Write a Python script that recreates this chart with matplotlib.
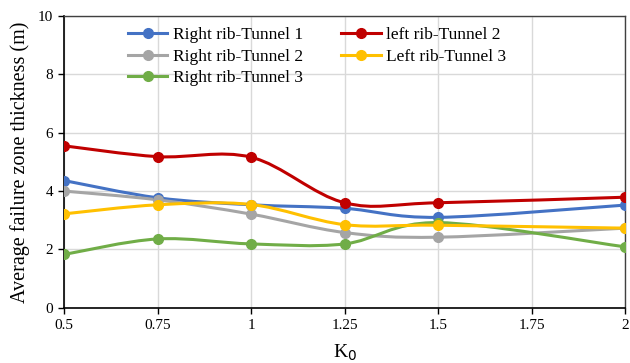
import matplotlib.pyplot as plt
import numpy as np
from matplotlib.path import Path
from matplotlib.patches import PathPatch
from matplotlib.lines import Line2D

# data
k0 = [0.5, 0.75, 1, 1.25, 1.5, 2]
right_t1 = [4.36, 3.77, 3.53, 3.41, 3.10, 3.52]
left_t2 = [5.55, 5.18, 5.16, 3.60, 3.60, 3.79]
right_t2 = [4.00, 3.70, 3.21, 2.58, 2.42, 2.73]
left_t3 = [3.22, 3.53, 3.54, 2.85, 2.83, 2.73]
right_t3 = [1.83, 2.36, 2.19, 2.19, 2.92, 2.09]

series = [
    ("Right rib-Tunnel 1", right_t1, "#4472C4"),
    ("Right rib-Tunnel 2", right_t2, "#A5A5A5"),
    ("Right rib-Tunnel 3", right_t3, "#70AD47"),
    ("left rib-Tunnel 2", left_t2, "#C00000"),
    ("Left rib-Tunnel 3", left_t3, "#FFC000"),
]

plt.rcParams['font.family'] = ['Liberation Serif', 'DejaVu Serif']


def smooth_path(x, y, tension=1 / 6):
    # Excel-like smoothed line: Catmull-Rom as cubic bezier segments
    pts = np.column_stack([x, y]).astype(float)
    n = len(pts)
    verts = [pts[0]]
    codes = [Path.MOVETO]
    for i in range(n - 1):
        p0 = pts[i - 1] if i > 0 else pts[i]
        p1 = pts[i]
        p2 = pts[i + 1]
        p3 = pts[i + 2] if i + 2 < n else pts[i + 1]
        c1 = p1 + (p2 - p0) * tension
        c2 = p2 - (p3 - p1) * tension
        verts += [c1, c2, p2]
        codes += [Path.CURVE4] * 3
    return Path(verts, codes)


fig, ax = plt.subplots(figsize=(6.3, 3.63), dpi=100)
fig.subplots_adjust(left=0.102, right=0.992, top=0.956, bottom=0.152)

handles = []
for label, vals, color in series:
    ax.add_patch(PathPatch(smooth_path(k0, vals), fill=False, edgecolor=color,
                           lw=2.2, zorder=3))
    ax.plot(k0, vals, 'o', color=color, markersize=7, zorder=4)
    handles.append(Line2D([], [], color=color, lw=2.2, marker='o',
                          markersize=7, label=label))

ax.set_xlim(0.5, 2)
ax.set_ylim(0, 10)
ax.set_xticks([0.5, 0.75, 1, 1.25, 1.5, 1.75, 2])
ax.set_xticklabels(["0.5", "0.75", "1", "1.25", "1.5", "1.75", "2"])
ax.set_yticks(range(0, 11, 2))
ax.tick_params(labelsize=11, length=4, width=1, direction='out', pad=4)
ax.grid(True, color='#D9D9D9', lw=1)
ax.set_axisbelow(True)
for s in ['top', 'right']:
    ax.spines[s].set_color('#404040')
    ax.spines[s].set_linewidth(1)
for s in ['left', 'bottom']:
    ax.spines[s].set_color('black')
    ax.spines[s].set_linewidth(1.2)

ax.set_xlabel("K$_0$", fontsize=14, labelpad=8)
ax.set_ylabel("Average failure zone thickness (m)", fontsize=14.5, labelpad=6)

ax.legend(handles=handles, ncol=2, frameon=False, fontsize=12.5,
          loc='upper left', bbox_to_anchor=(0.085, 1.015), handlelength=2.3,
          handletextpad=0.3, columnspacing=2.2, labelspacing=0.3)

fig.savefig("out.png", dpi=100)
